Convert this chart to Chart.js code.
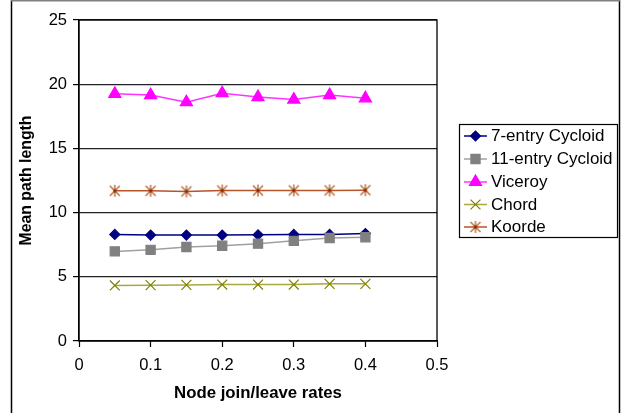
<!DOCTYPE html>
<html>
<head>
<meta charset="utf-8">
<script src="https://cdn.jsdelivr.net/npm/chart.js@4.4.1/dist/chart.umd.min.js"></script>
<style>
html,body{margin:0;padding:0;background:#fff;}
#wrap{width:621px;height:413px;position:relative;}
</style>
</head>
<body>
<div id="wrap"><canvas id="c" width="621" height="413"></canvas></div>
<script>
// ---- data ----
const rates = [0.05, 0.1, 0.15, 0.2, 0.25, 0.3, 0.35, 0.4];
const cycloid7 = [8.3, 8.25, 8.25, 8.25, 8.27, 8.3, 8.3, 8.37];
const cycloid11 = [6.98, 7.1, 7.32, 7.42, 7.58, 7.8, 8.02, 8.08];
const viceroy = [19.25, 19.15, 18.6, 19.3, 19.0, 18.8, 19.15, 18.9];
const chord = [4.33, 4.35, 4.37, 4.4, 4.4, 4.4, 4.45, 4.45];
const koorde = [11.7, 11.7, 11.65, 11.72, 11.72, 11.73, 11.73, 11.75];
const seriesNames = ['7-entry Cycloid', '11-entry Cycloid', 'Viceroy', 'Chord', 'Koorde'];
const xTicks = [0, 0.1, 0.2, 0.3, 0.4, 0.5];
const xTickLabels = ['0', '0.1', '0.2', '0.3', '0.4', '0.5'];
const yTicks = [0, 5, 10, 15, 20, 25];
const yTickLabels = ['0', '5', '10', '15', '20', '25'];
const xTitle = 'Node join/leave rates';
const yTitle = 'Mean path length';

const FONT = '"Liberation Sans", Arial, sans-serif';

// asterisk marker (Excel style: X plus vertical bar, dark centre)
function makeStar(){
  const s = 14, c = document.createElement('canvas');
  c.width = s; c.height = s;
  const g = c.getContext('2d');
  const m = s/2, r = 5;
  g.strokeStyle = '#B4602F'; g.lineWidth = 1.3;
  g.beginPath();
  g.moveTo(m-r, m-r); g.lineTo(m+r, m+r);
  g.moveTo(m+r, m-r); g.lineTo(m-r, m+r);
  g.moveTo(m, m-r-1); g.lineTo(m, m+r+1);
  g.stroke();
  g.fillStyle = '#8A2A00';
  g.beginPath(); g.arc(m, m, 1.6, 0, Math.PI*2); g.fill();
  return c;
}
const starImg = makeStar();

const pts = arr => arr.map((v, i) => ({x: rates[i], y: v}));

const styles = [
  {line:'#000080', fill:'#000080', style:'rectRot', r:5},
  {line:'#A0A0A0', fill:'#808080', style:'rect', r:6.5},
  {line:'#FF33FF', fill:'#FF00FF', style:'triangle', r:7},
  {line:'#A8A840', fill:'#808000', style:'crossRot', r:7},
  {line:'#B4552A', fill:'#993300', style:starImg, r:6}
];
const values = [cycloid7, cycloid11, viceroy, chord, koorde];

const datasets = values.map((v, i) => ({
  label: seriesNames[i],
  data: pts(v),
  borderColor: styles[i].line,
  backgroundColor: styles[i].fill,
  pointBorderColor: styles[i].fill,
  pointBackgroundColor: styles[i].fill,
  pointStyle: styles[i].style,
  pointRadius: styles[i].r,
  pointBorderWidth: 1.2,
  borderWidth: 1.5,
  tension: 0,
  order: 10 - i
}));

const framePlugin = {
  id: 'frame',
  afterDraw(chart){
    const ctx = chart.ctx, a = chart.chartArea;
    ctx.save();
    // outer frame
    ctx.lineWidth = 1.5;
    ctx.strokeStyle = '#000';
    ctx.beginPath(); ctx.moveTo(11.5, 0); ctx.lineTo(11.5, 413); ctx.stroke();
    ctx.beginPath(); ctx.moveTo(619.5, 0); ctx.lineTo(619.5, 413); ctx.stroke();
    ctx.strokeStyle = '#808080';
    ctx.beginPath(); ctx.moveTo(11, 0.75); ctx.lineTo(620, 0.75); ctx.stroke();
    // plot border
    ctx.strokeStyle = '#000'; ctx.lineWidth = 1.3;
    ctx.strokeRect(a.left, a.top, a.right - a.left, a.bottom - a.top);
    // axis titles
    ctx.fillStyle = '#000';
    ctx.textAlign = 'center'; ctx.textBaseline = 'middle';
    ctx.font = 'bold 16.8px ' + FONT;
    ctx.fillText(xTitle, (a.left + a.right)/2, 393);
    ctx.save();
    ctx.translate(27, (a.top + a.bottom)/2);
    ctx.rotate(-Math.PI/2);
    ctx.font = 'bold 15.8px ' + FONT;
    ctx.fillText(yTitle, 0, 0);
    ctx.restore();
    // legend
    const bx = 459.5, by = 124.5, bw = 158, bh = 113;
    ctx.fillStyle = '#fff';
    ctx.fillRect(bx, by, bw, bh);
    ctx.strokeStyle = '#000'; ctx.lineWidth = 1.2;
    ctx.strokeRect(bx, by, bw, bh);
    const rowY = [136, 159, 182, 204.5, 227];
    ctx.font = '17px ' + FONT;
    ctx.textAlign = 'left'; ctx.textBaseline = 'middle';
    chart.data.datasets.forEach((ds, i) => {
      const y = rowY[i];
      ctx.strokeStyle = ds.borderColor; ctx.lineWidth = 1.5;
      ctx.beginPath(); ctx.moveTo(464, y); ctx.lineTo(487, y); ctx.stroke();
      ctx.fillStyle = ds.pointBackgroundColor; ctx.strokeStyle = ds.pointBorderColor;
      ctx.lineWidth = 1.2;
      Chart.helpers.drawPoint(ctx, {pointStyle: ds.pointStyle, radius: ds.pointRadius, rotation: 0, borderWidth: 1.2}, 475.5, y);
      ctx.fillStyle = '#000';
      ctx.fillText(ds.label, 491, y + 0.5);
    });
    ctx.restore();
  }
};

new Chart(document.getElementById('c'), {
  type: 'line',
  data: {datasets},
  options: {
    responsive: false,
    animation: false,
    events: [],
    layout: {padding: {left: 11, top: 20, right: 184, bottom: 0}},
    plugins: {legend: {display: false}, tooltip: {enabled: false}, title: {display: false}},
    scales: {
      x: {
        type: 'linear', min: 0, max: 0.5,
        afterFit(s){ s.height = 72; },
        afterBuildTicks(s){ s.ticks = xTicks.map(v => ({value: v})); },
        grid: {drawOnChartArea: false, drawTicks: true, tickLength: 6, tickColor: '#000', tickWidth: 1.2},
        border: {display: true, color: '#000', width: 1.3},
        ticks: {
          padding: 9, color: '#000', maxRotation: 0, autoSkip: false,
          font: {family: FONT, size: 16.5},
          callback: (v) => { const k = xTicks.indexOf(v); return k >= 0 ? xTickLabels[k] : ''; }
        }
      },
      y: {
        type: 'linear', min: 0, max: 25,
        afterFit(s){ s.width = 68; },
        afterBuildTicks(s){ s.ticks = yTicks.map(v => ({value: v})); },
        grid: {color: '#222', lineWidth: 1.2, drawTicks: true, tickLength: 6, tickColor: '#000'},
        border: {display: true, color: '#000', width: 1.3},
        ticks: {
          padding: 6, color: '#000', autoSkip: false,
          font: {family: FONT, size: 16.5},
          callback: (v) => { const k = yTicks.indexOf(v); return k >= 0 ? yTickLabels[k] : ''; }
        }
      }
    }
  },
  plugins: [framePlugin]
});
</script>
</body>
</html>
